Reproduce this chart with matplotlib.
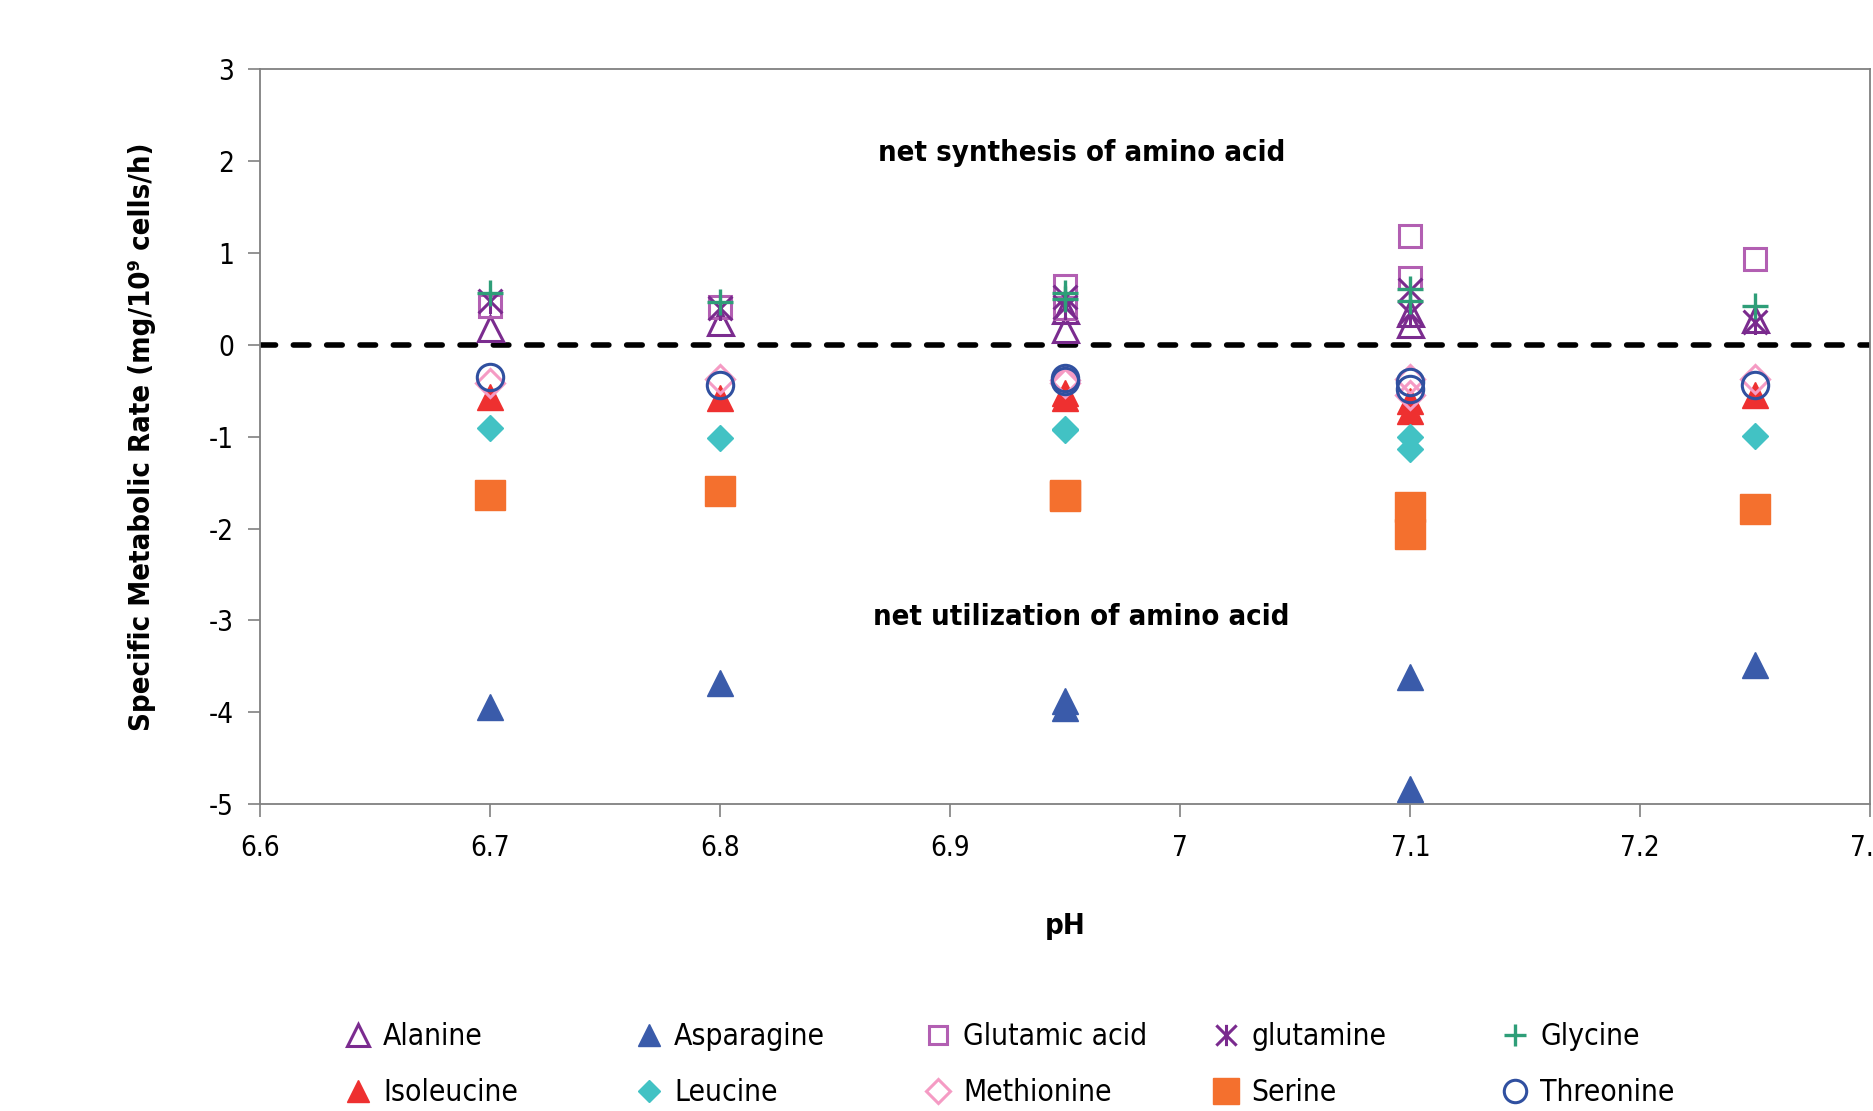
import numpy as np
import matplotlib
matplotlib.use("Agg")
import matplotlib.pyplot as plt
from matplotlib.path import Path

plt.rcParams['font.family'] = ['DejaVu Sans']
plt.rcParams['font.stretch'] = 'condensed'
plt.rcParams['axes.unicode_minus'] = False

# --- data (pH, specific rate) ---
ala_x = [6.7, 6.8, 6.95, 6.95, 7.1, 7.1, 7.25]
ala_y = [0.18, 0.25, 0.17, 0.38, 0.22, 0.35, 0.28]
asn_x = [6.7, 6.8, 6.95, 6.95, 7.1, 7.1, 7.25]
asn_y = [-3.94, -3.68, -3.88, -3.95, -3.61, -4.83, -3.48]
glu_x = [6.7, 6.8, 6.95, 6.95, 7.1, 7.1, 7.25]
glu_y = [0.42, 0.41, 0.64, 0.40, 1.18, 0.73, 0.93]
gln_x = [6.7, 6.8, 6.95, 6.95, 7.1, 7.1, 7.25]
gln_y = [0.47, 0.40, 0.52, 0.41, 0.59, 0.34, 0.25]
gly_x = [6.7, 6.8, 6.95, 6.95, 7.1, 7.1, 7.25]
gly_y = [0.56, 0.46, 0.56, 0.50, 0.61, 0.47, 0.42]
ile_x = [6.7, 6.8, 6.95, 6.95, 7.1, 7.1, 7.25]
ile_y = [-0.57, -0.58, -0.53, -0.58, -0.61, -0.72, -0.55]
leu_x = [6.7, 6.8, 6.95, 6.95, 7.1, 7.1, 7.25]
leu_y = [-0.91, -1.02, -0.92, -0.93, -1.00, -1.14, -0.99]
met_x = [6.7, 6.8, 6.95, 6.95, 7.1, 7.1, 7.25]
met_y = [-0.42, -0.37, -0.38, -0.42, -0.37, -0.55, -0.37]
ser_x = [6.7, 6.8, 6.95, 6.95, 7.1, 7.1, 7.25]
ser_y = [-1.64, -1.59, -1.64, -1.65, -1.77, -2.06, -1.79]
thr_x = [6.7, 6.8, 6.95, 6.95, 7.1, 7.1, 7.25]
thr_y = [-0.35, -0.44, -0.36, -0.39, -0.41, -0.48, -0.44]

x_ticks = [6.6, 6.7, 6.8, 6.9, 7.0, 7.1, 7.2, 7.3]
x_labels = ['6.6', '6.7', '6.8', '6.9', '7', '7.1', '7.2', '7.3']
y_ticks = [-5, -4, -3, -2, -1, 0, 1, 2, 3]

# X with a vertical bar (Excel "star" marker)
star = Path([(-1, -1), (1, 1), (-1, 1), (1, -1), (0, -1.05), (0, 1.05)],
            [Path.MOVETO, Path.LINETO, Path.MOVETO, Path.LINETO,
             Path.MOVETO, Path.LINETO])

series = [
    ('Alanine', ala_x, ala_y, dict(marker='^', ms=18, mfc='none', mec='#7B2C8F', mew=2.2)),
    ('Asparagine', asn_x, asn_y, dict(marker='^', ms=19, mfc='#3A5BAA', mec='#3A5BAA', mew=1)),
    ('Glutamic acid', glu_x, glu_y, dict(marker='s', ms=16, mfc='none', mec='#B25FB2', mew=2.2)),
    ('glutamine', gln_x, gln_y, dict(marker=star, ms=18, mfc='none', mec='#7A2A8E', mew=2.2)),
    ('Glycine', gly_x, gly_y, dict(marker='+', ms=19, mec='#2E9E78', mew=2.4)),
    ('Isoleucine', ile_x, ile_y, dict(marker='^', ms=19, mfc='#EE3030', mec='#EE3030', mew=1)),
    ('Leucine', leu_x, leu_y, dict(marker='D', ms=13.5, mfc='#42C2C4', mec='#42C2C4', mew=1)),
    ('Methionine', met_x, met_y, dict(marker='D', ms=14, mfc='none', mec='#F59BC4', mew=2.2)),
    ('Serine', ser_x, ser_y, dict(marker='s', ms=22, mfc='#F4702E', mec='#F4702E', mew=1)),
    ('Threonine', thr_x, thr_y, dict(marker='o', ms=19, mfc='none', mec='#3050A0', mew=2.2)),
]

fig = plt.figure(figsize=(18.74, 11.11), dpi=100)
ax = fig.add_axes([0.139, 0.276, 0.859, 0.662])

handles = {}
for name, xs, ys, st in series:
    h, = ax.plot(xs, ys, linestyle='none', clip_on=False, label=name, zorder=3, **st)
    handles[name] = h

ax.plot([6.6, 7.3], [0, 0], color='black', lw=4, dashes=(2.8, 3.2),
        dash_capstyle='round', zorder=2)

ax.set_xlim(6.6, 7.3)
ax.set_ylim(-5, 3)
ax.set_xticks(x_ticks)
ax.set_xticklabels(x_labels)
ax.set_yticks(y_ticks)
ax.tick_params(direction='out', length=9, width=1.2, color='#808080',
               labelsize=20, pad=10)
ax.tick_params(axis='x', pad=12)
for sp in ax.spines.values():
    sp.set_color('#808080')
    sp.set_linewidth(1.3)

ax.set_xlabel('pH', fontsize=21, fontweight='bold', labelpad=36)
ax.set_ylabel('Specific Metabolic Rate (mg/10\u2079 cells/h)', fontsize=21,
              fontweight='bold', labelpad=38)

ax.text(6.957, 2.09, 'net synthesis of amino acid', fontsize=21,
        fontweight='bold', ha='center', va='center')
ax.text(6.957, -2.96, 'net utilization of amino acid', fontsize=21,
        fontweight='bold', ha='center', va='center')

# legend: 5 columns of 2 rows, evenly spaced
cols = [('Alanine', 'Isoleucine'), ('Asparagine', 'Leucine'),
        ('Glutamic acid', 'Methionine'), ('glutamine', 'Serine'),
        ('Glycine', 'Threonine')]
col_x = [0.1830, 0.3383, 0.4925, 0.6462, 0.8004]
for (a, b), cx in zip(cols, col_x):
    fig.legend([handles[a], handles[b]], [a, b], loc='upper left',
               bbox_to_anchor=(cx, 0.080), frameon=False, fontsize=21.5,
               handlelength=1.0, handletextpad=0.35, borderpad=0,
               borderaxespad=0, labelspacing=0.9, markerscale=0.85)

fig.savefig('out.png', dpi=100)
